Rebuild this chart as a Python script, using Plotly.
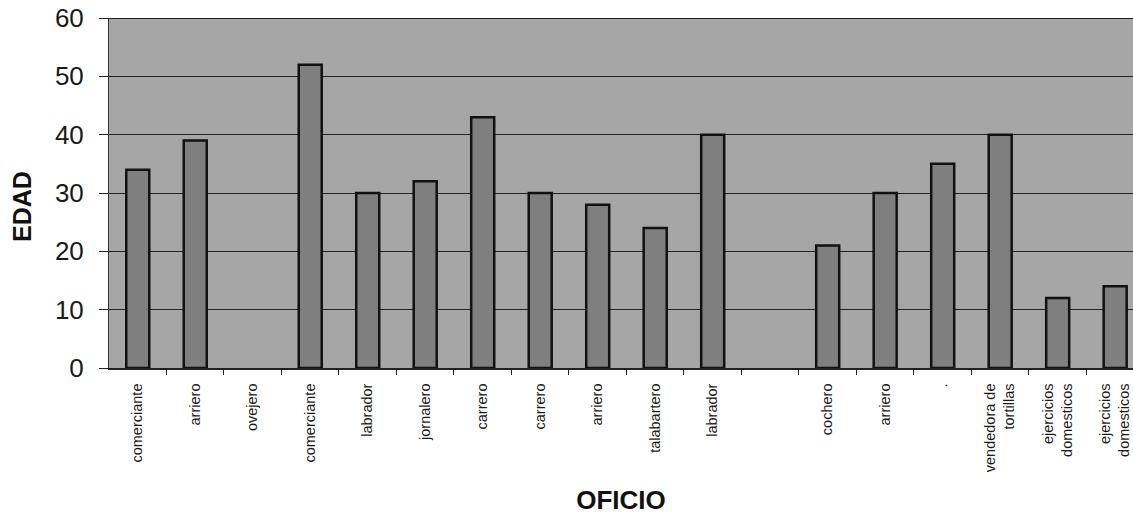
import plotly.graph_objects as go

# Occupation labels (one per slot, in order along the x axis)
oficios = [
    "comerciante", "arriero", "ovejero", "comerciante", "labrador",
    "jornalero", "carrero", "carrero", "arriero", "talabartero",
    "labrador", "", "cochero", "arriero", ".",
    "vendedora de<br>tortillas", "ejercicios<br>domesticos",
    "ejercicios<br>domesticos",
]
# Age for each slot (None where no bar is drawn)
edades = [34, 39, None, 52, 30, 32, 43, 30, 28, 24, 40, None, 21, 30, 35, 40, 12, 14]
y_ticks = [0, 10, 20, 30, 40, 50, 60]

posiciones = list(range(len(oficios)))
divisiones = [p + 0.5 for p in posiciones[:-1]]

fig = go.Figure(
    go.Bar(
        x=posiciones,
        y=edades,
        width=0.4,
        marker=dict(color="#7f7f7f", line=dict(color="#111111", width=2.5)),
    )
)

font_main = "Liberation Sans, Arial, sans-serif"

fig.update_layout(
    width=1133,
    height=521,
    margin=dict(l=109, r=0, t=18, b=153),
    paper_bgcolor="white",
    plot_bgcolor="#a6a6a6",
    showlegend=False,
    font=dict(family=font_main, color="#1a1a1a"),
)

fig.update_xaxes(
    range=[-0.5, 17.31],
    tickmode="array",
    tickvals=posiciones,
    ticktext=oficios,
    tickangle=-90,
    tickfont=dict(size=14.5, color="#1a1a1a"),
    ticks="",
    ticklabelstandoff=8,
    minor=dict(tickvals=divisiones, ticks="outside", ticklen=5, tickcolor="#222", tickwidth=1),
    showline=True,
    linecolor="#222",
    linewidth=1.5,
    showgrid=False,
    zeroline=False,
    title=dict(text="<b>OFICIO</b>", font=dict(size=26, color="#111"), standoff=20),
)

fig.update_yaxes(
    range=[0, 60],
    tickmode="array",
    tickvals=y_ticks,
    tickfont=dict(size=26, color="#1a1a1a"),
    ticks="outside",
    ticklen=9,
    tickcolor="#222",
    ticklabelstandoff=10,
    showline=True,
    linecolor="#333",
    linewidth=1,
    showgrid=True,
    gridcolor="#222",
    gridwidth=1.3,
    zeroline=False,
)

# Vertical axis title
fig.add_annotation(
    text="<b>EDAD</b>", xref="paper", yref="paper", x=-0.085, y=0.463,
    textangle=-90, showarrow=False, font=dict(size=25, color="#111"),
    xanchor="center", yanchor="middle",
)

# Dark border along the top of the plot area
fig.add_shape(
    type="line", xref="paper", yref="y", x0=0, x1=1, y0=60, y1=60,
    line=dict(color="#222", width=2),
)

fig.write_html("out.html")
